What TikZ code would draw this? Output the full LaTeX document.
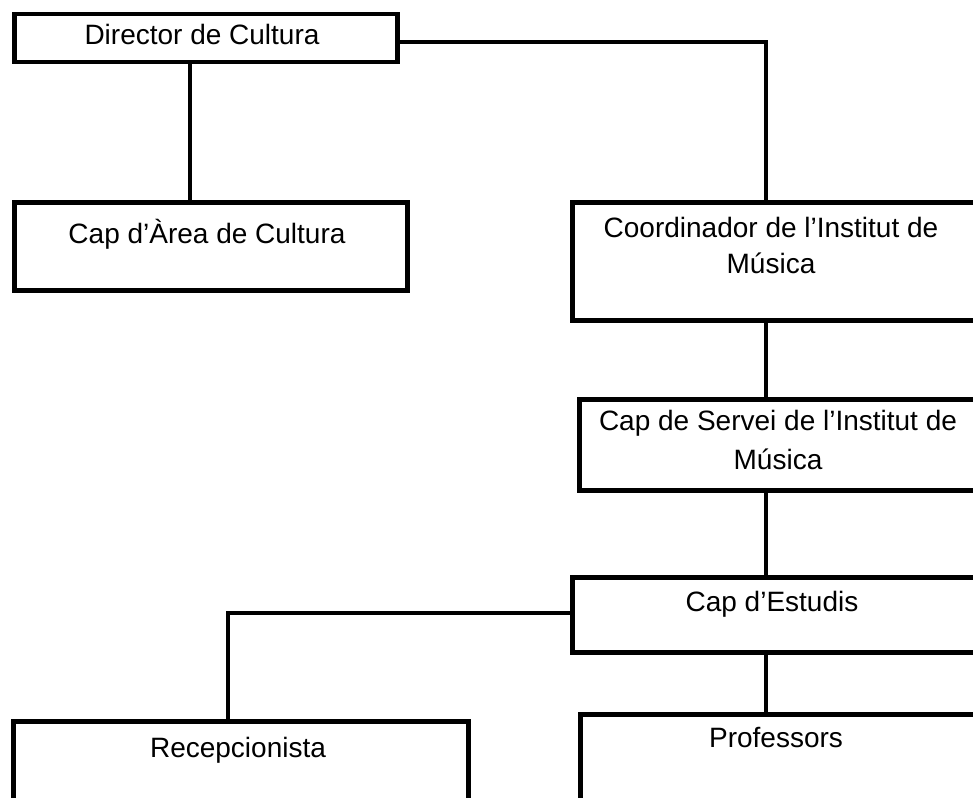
\documentclass[tikz,border=0pt]{standalone}
\usepackage{fontspec}
\setmainfont{Liberation Sans}
\begin{document}
\begin{tikzpicture}[x=1pt,y=-1pt,
  orgbox/.style={draw=black, line width=4.5pt, fill=white, rectangle, inner sep=0pt, anchor=north west},
  conn/.style={draw=black, line width=4pt},
  lbl/.style={anchor=base, inner sep=0pt, font=\fontsize{28}{37}\selectfont}]
\useasboundingbox (0,0) rectangle (973,797);
\clip (0,0) rectangle (973,797);
\fill[white] (0,0) rectangle (973,797);
% connectors
\node[orgbox, minimum width=383pt, minimum height=48pt] (dir) at (12,12) {};
\node[orgbox, minimum width=393pt, minimum height=88pt] (area) at (12,200) {};
\node[orgbox, minimum width=410pt, minimum height=118pt] (coord) at (570,200) {};
\node[orgbox, minimum width=403pt, minimum height=91pt] (servei) at (577,397) {};
\node[orgbox, minimum width=410pt, minimum height=75pt] (estudis) at (570,575) {};
\node[orgbox, minimum width=455pt, minimum height=111pt] (recep) at (11,719) {};
\node[orgbox, minimum width=402pt, minimum height=118pt] (prof) at (578,712) {};
\begin{scope}[on background layer/.try]
\end{scope}
\draw[conn] ([xshift=-15.5pt]dir.south) -- ([xshift=-15.5pt]dir.south |- area.north);
\draw[conn] ([yshift=-4pt]dir.east) -| ([xshift=-11.5pt]coord.north);
\draw[conn] ([xshift=-11.5pt]coord.south) -- ([xshift=-11.5pt]coord.south |- servei.north);
\draw[conn] ([xshift=-11.5pt]coord.south |- servei.south) -- ([xshift=-11.5pt]coord.south |- estudis.north);
\draw[conn] ([yshift=1.5pt]estudis.west) -| ([xshift=-12.5pt]recep.north);
\draw[conn] ([xshift=-11pt]estudis.south) -- ([xshift=-11pt]estudis.south |- prof.north);
% labels
\node[lbl] (tdir) at (202,45) {Director de Cultura};
\node[lbl] (tarea) at (207,243) {Cap d’Àrea de Cultura};
\node[lbl] (tcoord) at (771,237) {\fontsize{28}{36}\selectfont\begin{tabular}[t]{@{}c@{}}Coordinador de l’Institut de\\Música\end{tabular}};
\node[lbl] (tservei) at (778,430) {\fontsize{28}{39}\selectfont\begin{tabular}[t]{@{}c@{}}Cap de Servei de l’Institut de\\Música\end{tabular}};
\node[lbl] (testudis) at (772,611) {Cap d’Estudis};
\node[lbl] (trecep) at (238,757) {Recepcionista};
\node[lbl] (tprof) at (776,747) {Professors};
\end{tikzpicture}
\end{document}
